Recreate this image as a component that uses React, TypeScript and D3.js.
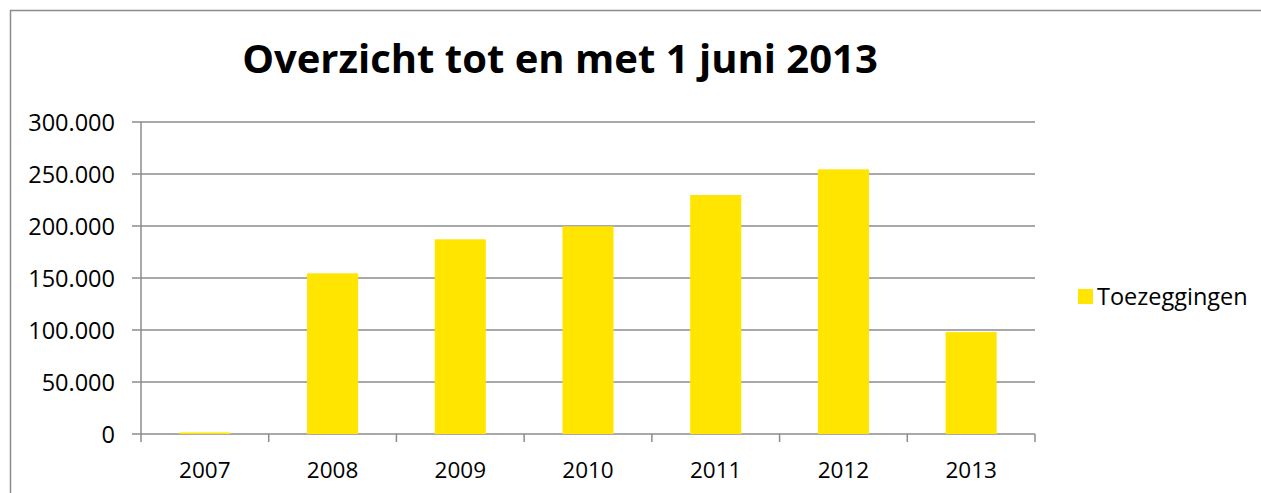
import React from "react";
import * as d3 from "d3";

const categories = ["2007", "2008", "2009", "2010", "2011", "2012", "2013"];
const values = [1500, 154500, 187200, 199700, 229800, 254500, 98000];
const yTicks = [0, 50000, 100000, 150000, 200000, 250000, 300000];
const seriesName = "Toezeggingen";
const title = "Overzicht tot en met 1 juni 2013";

const W = 1261, H = 493;
const left = 141, right = 1035, top = 122, bottom = 434;
const FONT = "'Open Sans', sans-serif";

const fmt = (v: number) => (v === 0 ? "0" : d3.format(",")(v).replace(/,/g, "."));

export default function App() {
  const x = d3.scaleBand<string>().domain(categories).range([left, right]).paddingInner(0).paddingOuter(0);
  const y = d3.scaleLinear().domain([0, 300000]).range([bottom, top]);
  const bw = x.bandwidth() * 0.4;
  const grid = "#8c8c8c";
  return (
    <svg width={W} height={H} style={{ position: "absolute", left: 0, top: 0 }}>
      <rect x={0} y={0} width={W} height={H} fill="#fff" />
      <path d={`M10.5,${H + 5}V10.5H${W + 5}`} fill="none" stroke="#8c8c8c" strokeWidth={1.5} />
      <text x={560} y={73} textAnchor="middle" fontFamily={FONT} fontWeight="bold" fontSize={40} fill="#000">{title}</text>
      {yTicks.map((t) => (
        <g key={t}>
          <line x1={left - 9} x2={right} y1={y(t)} y2={y(t)} stroke={grid} strokeWidth={1.5} />
          <text x={115} y={y(t) + 9} textAnchor="end" fontFamily={FONT} fontSize={23.5} fill="#000">{fmt(t)}</text>
        </g>
      ))}
      <line x1={left} x2={left} y1={top} y2={bottom + 8} stroke={grid} strokeWidth={1.5} />
      {categories.map((c) => (
        <line key={"t" + c} x1={x(c)! + x.bandwidth()} x2={x(c)! + x.bandwidth()} y1={bottom} y2={bottom + 8} stroke={grid} strokeWidth={1.5} />
      ))}
      {categories.map((c, i) => (
        <rect key={c} x={x(c)! + (x.bandwidth() - bw) / 2} y={y(values[i])} width={bw} height={bottom - y(values[i])} fill="#ffe500" />
      ))}
      {categories.map((c) => (
        <text key={"l" + c} x={x(c)! + x.bandwidth() / 2} y={477.5} textAnchor="middle" fontFamily={FONT} fontSize={22.5} fill="#000">{c}</text>
      ))}
      <rect x={1078} y={289} width={15} height={15} fill="#ffe500" />
      <text x={1097} y={305} fontFamily={FONT} fontSize={23.5} fill="#000">{seriesName}</text>
    </svg>
  );
}
